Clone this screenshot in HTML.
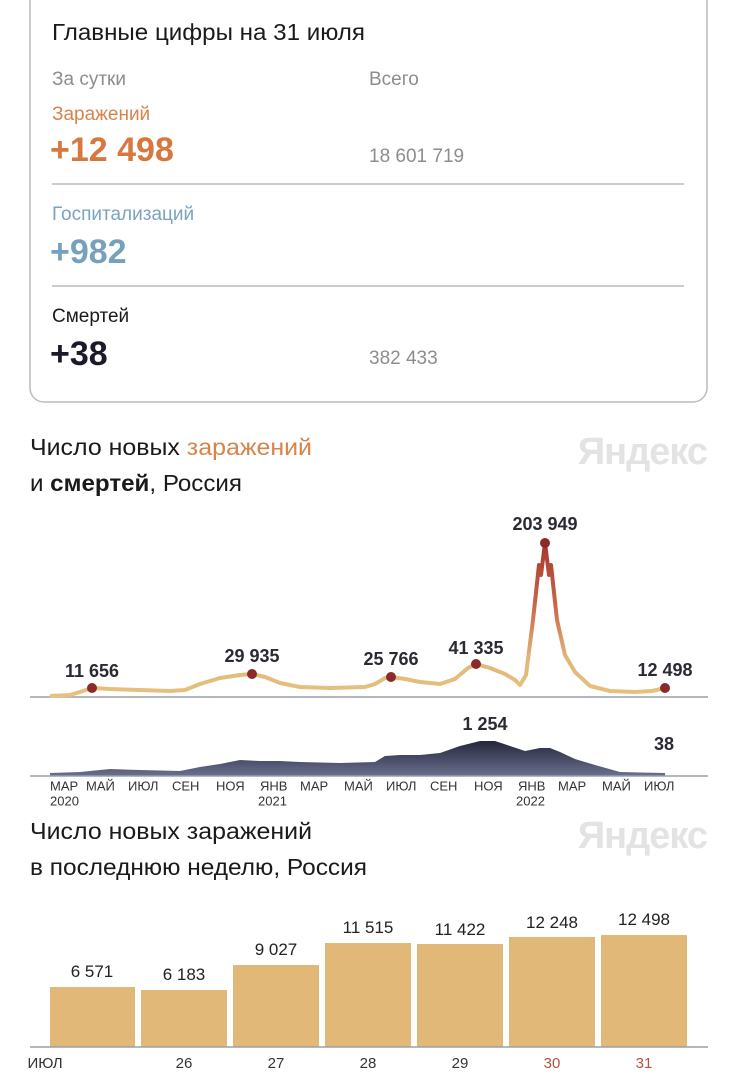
<!DOCTYPE html>
<html><head><meta charset="utf-8"><style>
html,body{margin:0;padding:0;background:#fff;}
svg{display:block;font-family:"Liberation Sans",sans-serif;}
</style></head><body>
<svg width="735" height="1080" viewBox="0 0 735 1080" xmlns="http://www.w3.org/2000/svg">
<defs>
<linearGradient id="lg" x1="0" y1="697" x2="0" y2="543" gradientUnits="userSpaceOnUse">
<stop offset="0" stop-color="#e6c27e"/><stop offset="0.25" stop-color="#e2b67a"/><stop offset="0.6" stop-color="#c9654a"/><stop offset="1" stop-color="#a8362c"/></linearGradient>
<linearGradient id="dg" x1="0" y1="776" x2="0" y2="737" gradientUnits="userSpaceOnUse">
<stop offset="0" stop-color="#6a6f8f"/><stop offset="1" stop-color="#1e1f33"/></linearGradient>
</defs>
<rect x="30" y="-20" width="677" height="422" rx="14" fill="#fff" stroke="#b9bcc2" stroke-width="1.5"/>
<text x="52" y="40" font-size="23" fill="#1a1a1a" textLength="313" lengthAdjust="spacingAndGlyphs">Главные цифры на 31 июля</text>
<text x="52" y="85" font-size="19" fill="#8d8d8d">За сутки</text>
<text x="369" y="85" font-size="19" fill="#8d8d8d">Всего</text>
<text x="52" y="120" font-size="19" fill="#d8834a">Заражений</text>
<text x="50" y="161" font-size="34" font-weight="bold" fill="#d8783e">+12 498</text>
<text x="369" y="162" font-size="19" fill="#8d8d8d">18 601 719</text>
<line x1="52" y1="184" x2="684" y2="184" stroke="#b9bcc2" stroke-width="1.5"/>
<text x="52" y="220" font-size="19" fill="#7aa3bd">Госпитализаций</text>
<text x="50" y="263" font-size="34" font-weight="bold" fill="#76a1bd">+982</text>
<line x1="52" y1="286" x2="684" y2="286" stroke="#b9bcc2" stroke-width="1.5"/>
<text x="52" y="322" font-size="19" fill="#1a1a1a">Смертей</text>
<text x="50" y="365" font-size="34" font-weight="bold" fill="#1a1a2a">+38</text>
<text x="369" y="364" font-size="19" fill="#8d8d8d">382 433</text>

<text x="30" y="455" font-size="23" fill="#1a1a1a" textLength="282" lengthAdjust="spacingAndGlyphs">Число новых <tspan fill="#d8834a">заражений</tspan></text>
<text x="30" y="491" font-size="23" fill="#1a1a1a" textLength="212" lengthAdjust="spacingAndGlyphs">и <tspan font-weight="bold">смертей</tspan>, Россия</text>
<text x="707" y="464" font-size="38" font-weight="bold" fill="#e3e3e3" text-anchor="end" letter-spacing="-1">Яндекс</text>

<line x1="30" y1="697" x2="708" y2="697" stroke="#9aa0a8" stroke-width="1.5"/>
<path d="M50,696 L70,695 L80,692 L92,688 L110,689 L140,690 L170,691 L185,690 L200,684 L220,678 L240,675 L252,674 L265,677 L280,683 L300,687 L330,688 L365,687 L375,684 L385,678 L391,677 L405,679 L420,682 L440,684 L455,679 L468,668 L476,664 L490,668 L505,674 L515,680 L520,685 L526,675 L533,620 L539,565 L541,575 L545,543 L549,575 L551,565 L557,620 L565,655 L575,672 L590,686 L610,691 L635,692 L652,691 L665,688" fill="none" stroke="url(#lg)" stroke-width="4" stroke-linejoin="round"/>
<g fill="#8b2a2a"><circle cx="92" cy="688" r="5"/><circle cx="252" cy="674" r="5"/><circle cx="391" cy="677" r="5"/><circle cx="476" cy="664" r="5"/><circle cx="545" cy="543" r="5"/><circle cx="665" cy="688" r="5"/></g>
<g font-size="18" font-weight="bold" fill="#2a2a33" text-anchor="middle">
<text x="92" y="677">11 656</text><text x="252" y="662">29 935</text><text x="391" y="665">25 766</text><text x="476" y="654">41 335</text><text x="545" y="530">203 949</text><text x="665" y="676">12 498</text>
<text x="485" y="730">1 254</text><text x="664" y="750">38</text></g>

<path d="M50,776 L50,773 L80,772 L110,769 L140,770 L180,771 L200,767 L220,764 L240,760 L260,761 L280,761 L300,762 L340,763 L375,762 L385,756 L400,755 L420,755 L440,753 L460,746 L480,741 L495,741 L510,746 L525,751 L540,748 L550,748 L560,752 L575,759 L595,765 L620,772 L665,773 L665,776 Z" fill="url(#dg)"/>
<line x1="30" y1="776" x2="708" y2="776" stroke="#9aa0a8" stroke-width="1.5"/>
<g font-size="13" fill="#333">
<text x="50" y="779" dy="0.9em">МАР</text><text x="50" y="794" dy="0.9em">2020</text>
<text x="86" y="779" dy="0.9em">МАЙ</text><text x="128" y="779" dy="0.9em">ИЮЛ</text><text x="172" y="779" dy="0.9em">СЕН</text><text x="216" y="779" dy="0.9em">НОЯ</text>
<text x="260" y="779" dy="0.9em">ЯНВ</text><text x="258" y="794" dy="0.9em">2021</text>
<text x="300" y="779" dy="0.9em">МАР</text><text x="344" y="779" dy="0.9em">МАЙ</text><text x="386" y="779" dy="0.9em">ИЮЛ</text><text x="430" y="779" dy="0.9em">СЕН</text><text x="474" y="779" dy="0.9em">НОЯ</text>
<text x="518" y="779" dy="0.9em">ЯНВ</text><text x="516" y="794" dy="0.9em">2022</text>
<text x="558" y="779" dy="0.9em">МАР</text><text x="602" y="779" dy="0.9em">МАЙ</text><text x="644" y="779" dy="0.9em">ИЮЛ</text></g>

<text x="30" y="839" font-size="23" fill="#1a1a1a" textLength="282" lengthAdjust="spacingAndGlyphs">Число новых заражений</text>
<text x="30" y="875" font-size="23" fill="#1a1a1a" textLength="337" lengthAdjust="spacingAndGlyphs">в последнюю неделю, Россия</text>
<text x="707" y="848" font-size="38" font-weight="bold" fill="#e3e3e3" text-anchor="end" letter-spacing="-1">Яндекс</text>

<g fill="#e1b877">
<rect x="50" y="987" width="85" height="60"/><rect x="141" y="990" width="86" height="57"/><rect x="233" y="965" width="86" height="82"/><rect x="325" y="943" width="86" height="104"/><rect x="417" y="944" width="86" height="103"/><rect x="509" y="937" width="86" height="110"/><rect x="601" y="935" width="86" height="112"/></g>
<line x1="30" y1="1047" x2="708" y2="1047" stroke="#9aa0a8" stroke-width="1.5"/>
<g font-size="17" fill="#222" text-anchor="middle">
<text x="92" y="977">6 571</text><text x="184" y="980">6 183</text><text x="276" y="955">9 027</text><text x="368" y="933">11 515</text><text x="460" y="935">11 422</text><text x="552" y="928">12 248</text><text x="644" y="925">12 498</text></g>
<g font-size="15" fill="#333" text-anchor="middle">
<text x="45" y="1068">ИЮЛ</text><text x="184" y="1068">26</text><text x="276" y="1068">27</text><text x="368" y="1068">28</text><text x="460" y="1068">29</text><text x="552" y="1068" fill="#b5523e">30</text><text x="644" y="1068" fill="#b5523e">31</text></g>
</svg>
</body></html>
